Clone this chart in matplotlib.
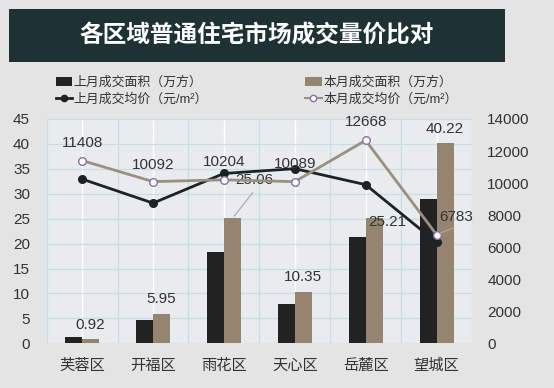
import matplotlib
matplotlib.use("Agg")
import matplotlib.pyplot as plt
from matplotlib.patches import Rectangle, Patch
from matplotlib.lines import Line2D
import numpy as np

plt.rcParams['font.family'] = ['Liberation Sans', 'Noto Sans CJK SC', 'DejaVu Sans']

title = "各区域普通住宅市场成交量价比对"
districts = ["芙蓉区", "开福区", "雨花区", "天心区", "岳麓区", "望城区"]
last_area = [1.3, 4.7, 18.3, 7.9, 21.4, 28.9]
this_area = [0.92, 5.95, 25.06, 10.35, 25.21, 40.22]
last_price = [10250, 8750, 10600, 10900, 9900, 6300]
this_price = [11408, 10092, 10204, 10089, 12668, 6783]
left_ticks = [0, 5, 10, 15, 20, 25, 30, 35, 40, 45]
right_ticks = [0, 2000, 4000, 6000, 8000, 10000, 12000, 14000]
legend_labels = ["上月成交面积（万方）", "上月成交均价（元/m²）", "本月成交面积（万方）", "本月成交均价（元/m²）"]

# label offsets in pixels (layout only)
area_offsets = [(0, 14), (0, 15), (22, 38), (0, 15), (13, -4), (0, 14)]
price_offsets = [(0, 18), (0, 17), (0, 18), (0, 18), (0, 18), (20, 18)]

BG = "#e4e4e4"
C_LAST = "#222222"
C_THIS = "#958570"
C_LINE_LAST = "#1c2226"
C_LINE_THIS = "#9b8f81"
C_MARK_EDGE = "#8a6fa8"
GRID = "#c8dde6"

fig = plt.figure(figsize=(5.54, 3.88), dpi=100, facecolor=BG)
W, H = 554, 388

# title bar
fig.patches.append(Rectangle((9 / W, 1 - 62 / H), 496 / W, 53 / H, transform=fig.transFigure,
                             facecolor="#1e3233", edgecolor="none", zorder=0))
fig.text(257 / W, 1 - 36 / H, title, color="white", fontsize=17, fontweight="bold",
         ha="center", va="center", family=['Noto Sans CJK SC'])

ax = fig.add_axes([46.7 / W, 1 - 343.3 / H, (472 - 46.7) / W, (343.3 - 119) / H])
ax.set_facecolor("#e8ecee")
x = np.arange(len(districts))
w = 0.24
ax.bar(x - w / 2, last_area, w, color=C_LAST, zorder=3)
ax.bar(x + w / 2, this_area, w, color=C_THIS, zorder=3)
ax.set_xlim(-0.5, len(districts) - 0.5)
ax.set_ylim(0, 45)
ax.set_yticks(left_ticks)
ax.set_yticklabels([str(t) for t in left_ticks])
ax.set_xticks(x)
ax.set_xticklabels(districts, family=['Noto Sans CJK SC'], fontsize=10, color="#333333")
ax.tick_params(axis="both", length=0, labelsize=11, colors="#333333")
ax.tick_params(axis="x", pad=10)
ax.tick_params(axis="y", pad=12)
ax.yaxis.grid(True, color=GRID, lw=0.9, zorder=0)
ax.set_axisbelow(True)
for b in np.arange(-0.5, len(districts), 1.0):
    ax.axvline(b, color=GRID, lw=0.9, zorder=0)
for c in x:
    ax.axvline(c, color="white", lw=1.0, zorder=0)
for s in ax.spines.values():
    s.set_visible(False)

for i, v in enumerate(this_area):
    dx, dy = area_offsets[i]
    ax.annotate(f"{v:.2f}", (x[i] + w / 2, v), xytext=(dx, dy), textcoords="offset pixels",
                ha="center", va="center", fontsize=11, color="#333333", zorder=5)
    if dy > 25:
        ax.annotate("", (x[i] + w / 2, v), xytext=(dx, dy - 10), textcoords="offset pixels",
                    arrowprops=dict(arrowstyle="-", color="#aaaaaa", lw=0.8), zorder=5)

ax2 = ax.twinx()
ax2.set_ylim(0, 14000)
ax2.set_yticks(right_ticks)
ax2.set_yticklabels([str(t) for t in right_ticks])
ax2.tick_params(axis="y", length=0, labelsize=11, colors="#333333", pad=11)
for s in ax2.spines.values():
    s.set_visible(False)
ax2.plot(x, last_price, color=C_LINE_LAST, lw=2, marker="o", ms=5.5,
         markerfacecolor=C_LINE_LAST, markeredgecolor=C_LINE_LAST, zorder=4)
ax2.plot(x, this_price, color=C_LINE_THIS, lw=2, marker="o", ms=5.5,
         markerfacecolor="white", markeredgecolor=C_MARK_EDGE, markeredgewidth=1, zorder=5)
for i, v in enumerate(this_price):
    dx, dy = price_offsets[i]
    ax2.annotate(str(v), (x[i], v), xytext=(dx, dy), textcoords="offset pixels",
                 ha="center", va="center", fontsize=11, color="#333333", zorder=6)
    if dx > 10:
        ax2.annotate("", (x[i], v), xytext=(dx, 8), textcoords="offset pixels",
                     arrowprops=dict(arrowstyle="-", color="#aaaaaa", lw=0.8), zorder=5)

handles = [
    Patch(facecolor=C_LAST, edgecolor="none"),
    Line2D([], [], color=C_LINE_LAST, lw=2, marker="o", ms=4.5, markerfacecolor=C_LINE_LAST),
    Patch(facecolor=C_THIS, edgecolor="none"),
    Line2D([], [], color=C_LINE_THIS, lw=1.5, marker="o", ms=4.5, markerfacecolor="white",
           markeredgecolor=C_MARK_EDGE),
]
leg = fig.legend(handles, legend_labels, loc="upper left", bbox_to_anchor=(44 / W, 1 - 65 / H),
                 ncol=2, frameon=False, fontsize=9.3, handlelength=1.3, handleheight=0.6,
                 handletextpad=0.1, columnspacing=7.5, labelspacing=0.3)
for t in leg.get_texts():
    t.set_color("#333333")

fig.savefig("out.png", dpi=100, facecolor=BG)
